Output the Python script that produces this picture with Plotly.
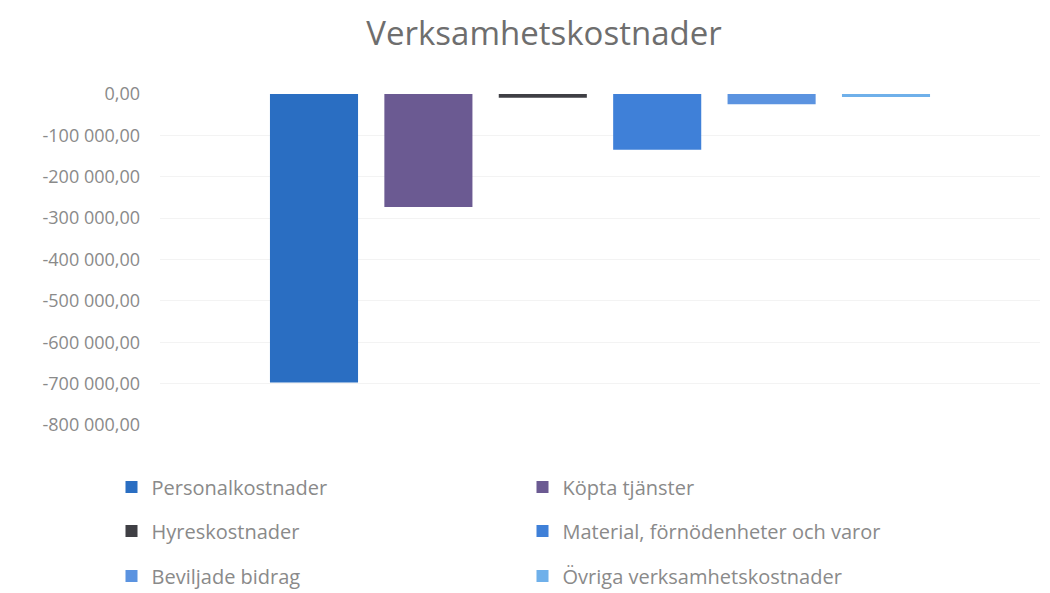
import plotly.graph_objects as go

categories = ["Verksamhetskostnader"]
series_names = [
    "Personalkostnader",
    "Köpta tjänster",
    "Hyreskostnader",
    "Material, förnödenheter och varor",
    "Beviljade bidrag",
    "Övriga verksamhetskostnader",
]
series_values = [-697000, -273000, -9000, -135000, -25000, -7000]
series_colors = ["#2a6ec2", "#6b5a92", "#3f3f44", "#3f80d8", "#5b93e0", "#6fb0ea"]
tick_values = [0, -100000, -200000, -300000, -400000, -500000, -600000, -700000, -800000]
tick_labels = ["0,00", "-100 000,00", "-200 000,00", "-300 000,00", "-400 000,00",
               "-500 000,00", "-600 000,00", "-700 000,00", "-800 000,00"]

legend_for = ["legend", "legend", "legend2", "legend2", "legend3", "legend3"]

FONT = "Open Sans"
GREY = "#8a8a8a"

fig = go.Figure()
for name, val, col, lg in zip(series_names, series_values, series_colors, legend_for):
    fig.add_trace(go.Bar(
        x=categories, y=[val], name=name, marker_color=col,
        marker_line_width=0, legend=lg,
    ))

leg_common = dict(
    orientation="h", xref="container", yref="container",
    x=111.5/1050, xanchor="left", yanchor="middle",
    font=dict(family=FONT, size=20, color=GREY),
    entrywidth=366, entrywidthmode="pixels",
    bgcolor="rgba(0,0,0,0)", itemwidth=30,
)

fig.update_layout(
    width=1050, height=593,
    paper_bgcolor="white", plot_bgcolor="white",
    barmode="group", bargap=0.22, bargroupgap=0.23,
    margin=dict(l=160, r=10, t=94, b=168),
    title=dict(text="Verksamhetskostnader", x=544/1050, xref="container", xanchor="center",
               y=1 - 33/593, yref="container", yanchor="middle",
               font=dict(family=FONT, size=33, color="#6e6e6e")),
    xaxis=dict(showticklabels=False, showgrid=False, zeroline=False, showline=False),
    yaxis=dict(range=[-800000, 0], tickvals=tick_values, ticktext=tick_labels,
               showgrid=True, gridcolor="#f3f3f3", zeroline=False, showline=False,
               ticks="", ticklabelstandoff=19,
               tickfont=dict(family=FONT, size=18, color=GREY)),
    legend=dict(leg_common, y=1 - 487/593),
    legend2=dict(leg_common, y=1 - 531/593),
    legend3=dict(leg_common, y=1 - 576/593),
)

fig.write_html("out.html")
